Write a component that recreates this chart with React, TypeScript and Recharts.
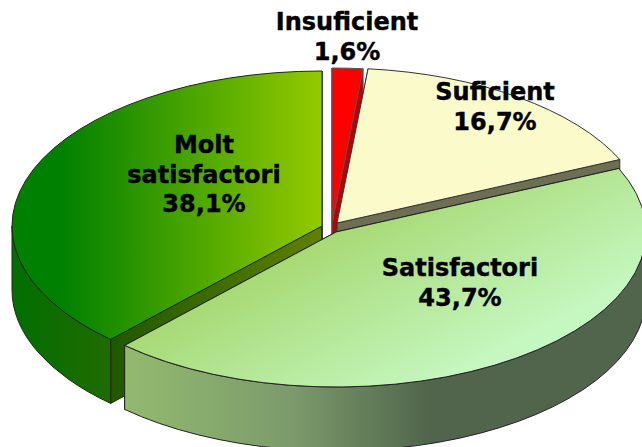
import React from 'react';
import { PieChart, Pie } from 'recharts';

// drawn back to front, so the front slice goes last
const CATEGORIES = ['Molt satisfactori', 'Insuficient', 'Suficient', 'Satisfactori'];
const VALUES = [38.1, 1.6, 16.7, 43.7];
const LABEL_LINES = [['Molt', 'satisfactori'], ['Insuficient'], ['Suficient'], ['Satisfactori']];

const chartData = CATEGORIES.map((name, i) => ({ name, value: VALUES[i] }));

// molt satisfactori ends exactly at 12 o'clock
const START_ANGLE = 90 + (VALUES[0] / VALUES.reduce((a, b) => a + b, 0)) * 360;

const CX = 330;
const CY = 228;
const RADIUS = 310;
const SQUASH = 0.5;

const SLICE_STYLES: Record<string, any> = {
  'Molt satisfactori': { dx: -8, dy: -2, depth: 64, top: 'url(#moltTop)', wall: 'url(#moltWall)', cut: 'url(#moltCut)', line: '#1c2a10' },
  Insuficient: { dx: 2, dy: -5, depth: 30, top: '#ff0000', wall: '#c00000', cut: '#c00000', line: '#555' },
  Suficient: { dx: 7, dy: -5, depth: 64, top: '#fafacb', wall: '#6e6e55', cut: '#6e6e55', line: '#333' },
  Satisfactori: { dx: 6, dy: 4, depth: 64, top: 'url(#satTop)', wall: 'url(#satWall)', cut: 'url(#satWall)', line: '#222' },
};

const LABEL_POS: Record<string, { x: number; y: number }> = {
  'Molt satisfactori': { x: 204, y: 153 },
  Insuficient: { x: 347, y: 30 },
  Suficient: { x: 495, y: 100 },
  Satisfactori: { x: 460, y: 276 },
};

const LINE_HEIGHT = 29.5;

const point = (cx: number, cy: number, r: number, deg: number) => {
  const rad = (deg * Math.PI) / 180;
  return [cx + r * Math.cos(rad), cy - r * SQUASH * Math.sin(rad)];
};

// same sector recharts computes, flattened and extruded
const SliceShape = (props: any) => {
  const { cx, cy, outerRadius: r, startAngle, endAngle, name } = props;
  const st = SLICE_STYLES[name];
  const x0 = cx + st.dx;
  const y0 = cy + st.dy;
  const ry = r * SQUASH;
  const [sx, sy] = point(x0, y0, r, startAngle);
  const [ex, ey] = point(x0, y0, r, endAngle);
  const d = st.depth;

  const topPath = `M${x0},${y0} L${sx},${sy} A${r},${ry} 0 0 1 ${ex},${ey} Z`;
  const cutA = `M${x0},${y0} L${sx},${sy} L${sx},${sy + d} L${x0},${y0 + d} Z`;
  const cutB = `M${x0},${y0} L${ex},${ey} L${ex},${ey + d} L${x0},${y0 + d} Z`;

  // outer wall only where the rim faces the viewer
  let wallPath = null;
  const from = startAngle > 180 ? startAngle : Math.min(startAngle, 0);
  const to = startAngle > 180 ? Math.max(endAngle, 180) : endAngle;
  if (from > to) {
    const [ax, ay] = point(x0, y0, r, from);
    const [bx, by] = point(x0, y0, r, to);
    wallPath = `M${ax},${ay} A${r},${ry} 0 0 1 ${bx},${by} L${bx},${by + d} A${r},${ry} 0 0 0 ${ax},${ay + d} Z`;
  }

  return (
    <g>
      <path d={cutA} fill={st.cut} stroke={st.line} strokeWidth={1} />
      <path d={cutB} fill={st.cut} stroke={st.line} strokeWidth={1} />
      {wallPath && <path d={wallPath} fill={st.wall} stroke={st.line} strokeWidth={1} />}
      <path d={topPath} fill={st.top} stroke={st.line} strokeWidth={1} />
    </g>
  );
};

const renderLabel = (props: any) => {
  const i = CATEGORIES.indexOf(props.name);
  const pos = LABEL_POS[props.name];
  const lines = [...LABEL_LINES[i], VALUES[i].toFixed(1).replace('.', ',') + '%'];
  return (
    <text
      x={pos.x}
      y={pos.y}
      textAnchor="middle"
      fontFamily="DejaVu Sans"
      fontWeight="bold"
      fontSize={24}
      fill="#000"
      stroke="#000"
      strokeWidth={0.4}
    >
      {lines.map((line, k) => (
        <tspan key={k} x={pos.x} y={pos.y + k * LINE_HEIGHT}>
          {line}
        </tspan>
      ))}
    </text>
  );
};

export default function App() {
  return (
    <div style={{ position: 'absolute', left: 0, top: 0, width: 642, height: 447, overflow: 'hidden', background: '#fff' }}>
      <PieChart width={642} height={447} margin={{ top: 0, right: 0, bottom: 0, left: 0 }}>
        <defs>
          <linearGradient id="moltTop" gradientUnits="userSpaceOnUse" x1={60} y1={0} x2={330} y2={0}>
            <stop offset="0%" stopColor="#008000" />
            <stop offset="100%" stopColor="#99cc00" />
          </linearGradient>
          <linearGradient id="moltWall" gradientUnits="userSpaceOnUse" x1={12} y1={0} x2={112} y2={0}>
            <stop offset="0%" stopColor="#006f00" />
            <stop offset="100%" stopColor="#226b00" />
          </linearGradient>
          <linearGradient id="moltCut" gradientUnits="userSpaceOnUse" x1={110} y1={0} x2={322} y2={0}>
            <stop offset="0%" stopColor="#1f5800" />
            <stop offset="100%" stopColor="#608000" />
          </linearGradient>
          <linearGradient id="satTop" gradientUnits="userSpaceOnUse" x1={340} y1={220} x2={430} y2={390}>
            <stop offset="0%" stopColor="#a6d872" />
            <stop offset="100%" stopColor="#c5f7c0" />
          </linearGradient>
          <linearGradient id="satWall" gradientUnits="userSpaceOnUse" x1={125} y1={0} x2={430} y2={0}>
            <stop offset="0%" stopColor="#92ba6e" />
            <stop offset="55%" stopColor="#7c9a6c" />
            <stop offset="100%" stopColor="#50654b" />
          </linearGradient>
        </defs>
        <Pie
          data={chartData}
          dataKey="value"
          nameKey="name"
          cx={CX}
          cy={CY}
          innerRadius={0}
          outerRadius={RADIUS}
          startAngle={START_ANGLE}
          endAngle={START_ANGLE - 360}
          paddingAngle={0}
          stroke="none"
          shape={SliceShape}
          label={renderLabel}
          labelLine={false}
          isAnimationActive={false}
        />
      </PieChart>
    </div>
  );
}
